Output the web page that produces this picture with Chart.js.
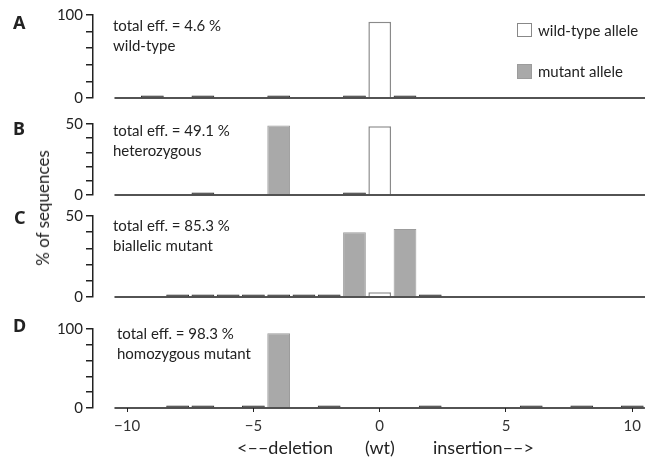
<!DOCTYPE html>
<html>
<head>
<meta charset="utf-8">
<script src="https://cdn.jsdelivr.net/npm/chart.js@4.4.0/dist/chart.umd.min.js"></script>
<style>
  body { margin: 0; background: #fff; }
  #fig { position: relative; width: 646px; height: 462px; font-family: Lato, "Open Sans", sans-serif; color: #222; overflow: hidden; }
  #fig canvas { position: absolute; left: 0; top: 0; }
  .t { position: absolute; font-size: 15px; line-height: 20px; white-space: nowrap; }
  .letter { position: absolute; font-family: "Noto Sans", sans-serif; font-weight: bold; font-size: 18px; line-height: 20px; }
  .box { position: absolute; box-sizing: border-box; }
</style>
</head>
<body>
<div id="fig">
  <canvas id="c0" width="646" height="462"></canvas>
  <canvas id="c1" width="646" height="462"></canvas>
  <canvas id="c2" width="646" height="462"></canvas>
  <canvas id="c3" width="646" height="462"></canvas>
</div>
<script>
// x positions (indel size), one entry per position
const positions = [-10, -9, -8, -7, -6, -5, -4, -3, -2, -1, 0, 1, 2, 3, 4, 5, 6, 7, 8, 9, 10];
const xTicks = [-10, -5, 0, 5, 10];

const panelLetters = ["A", "B", "C", "D"];
const effTexts = ["total eff. = 4.6 %", "total eff. = 49.1 %", "total eff. = 85.3 %", "total eff. = 98.3 %"];
const genotypes = ["wild-type", "heterozygous", "biallelic mutant", "homozygous mutant"];
const yMax = [100, 50, 50, 100];
const yStep = [20, 10, 10, 20];

// % of sequences, A..D
//            -10   -9    -8    -7    -6    -5    -4    -3    -2    -1    0     1     2     3     4     5     6     7     8     9     10
const wtA  = [null, null, null, null, null, null, null, null, null, null, 92,   null, null, null, null, null, null, null, null, null, null];
const mutA = [null, 0.4,  null, 0.4,  null, null, 0.8,  null, null, 1.0,  null, 1.8,  null, null, null, null, null, null, null, null, null];
const wtB  = [null, null, null, null, null, null, null, null, null, null, 48.5, null, null, null, null, null, null, null, null, null, null];
const mutB = [null, null, null, 0.6,  null, null, 49,   null, null, 0.3,  null, null, null, null, null, null, null, null, null, null, null];
const wtC  = [null, null, null, null, null, null, null, null, null, null, 3,    null, null, null, null, null, null, null, null, null, null];
const mutC = [null, null, 0.5,  0.4,  1.0,  0.5,  0.3,  0.5,  1.0,  40,   null, 42,   0.6,  null, null, null, null, null, null, null, null];
const wtD  = [null, null, null, null, null, null, null, null, null, null, null, null, null, null, null, null, null, null, null, null, null];
const mutD = [null, null, 0.3,  0.3,  null, 0.6,  94.5, null, 0.6,  null, null, null, 0.3,  null, null, null, 0.8,  null, 0.3,  null, 0.3];

const wtSeries = [wtA, wtB, wtC, wtD];
const mutSeries = [mutA, mutB, mutC, mutD];

// layout of the four panels (pixels)
const areaTop = [15, 124, 216, 329];
const areaBottom = [98, 195, 297, 408];
const xAxisH = 30;
const H = 462;

function fmt(v) {
  return v < 0 ? "\u2212" + Math.abs(v) : String(v);
}

function makePanel(i) {
  const bottom = i === 3;
  const wt = wtSeries[i];
  const mut = mutSeries[i];
  return new Chart(document.getElementById("c" + i), {
    type: "bar",
    data: {
      datasets: [
        {
          type: "line",
          data: [{ x: -10.5, y: 0 }, { x: 10.5, y: 0 }],
          borderColor: "#1a1a1a",
          borderWidth: 1.6,
          pointRadius: 0,
          clip: false,
          order: 0,
        },
        {
          label: "wild-type allele",
          data: positions.map((x, k) => ({ x: x, y: wt[k] })),
          backgroundColor: "#ffffff",
          borderColor: "#8a8a8a",
          borderWidth: 1.5,
          grouped: false,
          order: 1,
        },
        {
          label: "mutant allele",
          data: positions.map((x, k) => ({ x: x, y: mut[k] })),
          backgroundColor: (c) => (c.raw && c.raw.y < 2 ? "#2a2a2a" : "#a9a9a9"),
          borderColor: (c) => (c.raw && c.raw.y < 2 ? "#2a2a2a" : "#9c9c9c"),
          borderWidth: 1,
          minBarLength: 2.5,
          grouped: false,
          order: 1,
        },
      ],
    },
    options: {
      responsive: false,
      animation: false,
      events: [],
      layout: {
        padding: {
          left: 0,
          right: 1,
          top: areaTop[i],
          bottom: bottom ? H - areaBottom[i] - xAxisH : H - areaBottom[i],
        },
      },
      plugins: { legend: { display: false }, tooltip: { enabled: false } },
      datasets: { bar: { categoryPercentage: 1, barPercentage: 0.9 } },
      scales: {
        x: {
          type: "linear",
          min: -11.35,
          max: 10.5,
          offset: false,
          display: bottom,
          afterBuildTicks: (s) => { s.ticks = xTicks.map((v) => ({ value: v })); },
          afterFit: (s) => { if (bottom) s.height = xAxisH; },
          border: { display: false },
          grid: { offset: false, drawOnChartArea: false, drawTicks: true, tickLength: 4, color: "#222", lineWidth: 1 },
          ticks: {
            padding: 5,
            color: "#333",
            autoSkip: false,
            maxRotation: 0,
            font: { family: "Lato", size: 15 },
            callback: (v) => fmt(v),
          },
        },
        y: {
          min: 0,
          max: yMax[i],
          afterFit: (s) => { s.width = 93; },
          border: { display: true, color: "#222", width: 1.5 },
          grid: { drawOnChartArea: false, drawTicks: true, tickLength: 7, color: "#222", lineWidth: 1.5 },
          ticks: {
            stepSize: yStep[i],
            autoSkip: false,
            padding: 3,
            color: "#222",
            font: { family: "Lato", size: 15 },
            callback: (v) => (v === 0 || v === yMax[i] ? String(v) : ""),
          },
        },
      },
    },
  });
}

for (let i = 0; i < 4; i++) makePanel(i);

// text overlays
const fig = document.getElementById("fig");
function addText(cls, txt, left, cy, extra) {
  const d = document.createElement("div");
  d.className = cls;
  d.textContent = txt;
  d.style.left = left + "px";
  d.style.top = (cy - 10) + "px";
  if (extra) Object.assign(d.style, extra);
  fig.appendChild(d);
  return d;
}

const letterY = [22, 128, 217, 325];
const letterX = [13, 13, 14, 13];
const effY = [25, 130, 225, 333];
const effX = [113, 113, 113, 117];
for (let i = 0; i < 4; i++) {
  addText("letter", panelLetters[i], letterX[i], letterY[i]);
  addText("t", effTexts[i], effX[i], effY[i]);
  addText("t", genotypes[i], effX[i], effY[i] + 20);
}

// legend
const b1 = document.createElement("div");
b1.className = "box";
Object.assign(b1.style, { left: "517px", top: "23px", width: "15px", height: "14px", border: "1.5px solid #888", background: "#fff" });
fig.appendChild(b1);
const b2 = document.createElement("div");
b2.className = "box";
Object.assign(b2.style, { left: "517px", top: "64px", width: "15px", height: "15px", border: "1px solid #9c9c9c", background: "#a9a9a9" });
fig.appendChild(b2);
addText("t", "wild-type allele", 538, 30);
addText("t", "mutant allele", 538, 71);

// axis titles
addText("t", "% of sequences", 43, 208, { fontSize: "17px", transform: "translate(-50%, 0) rotate(-90deg)", transformOrigin: "50% 50%" });
addText("t", "<\u2013\u2013deletion", 237, 447, { fontSize: "18px" });
addText("t", "(wt)", 365, 447, { fontSize: "18px" });
addText("t", "insertion\u2013\u2013>", 433, 447, { fontSize: "18px" });
</script>
</body>
</html>
